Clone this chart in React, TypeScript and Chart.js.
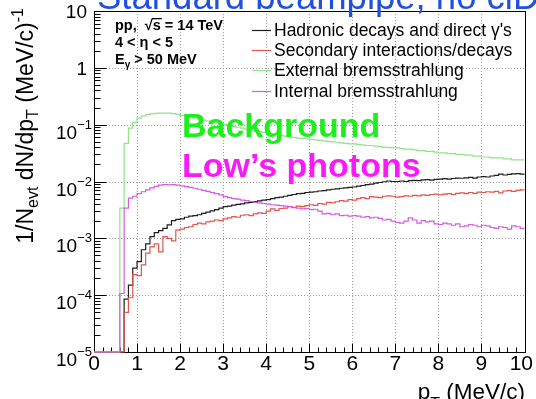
import { useEffect, useRef } from "react";
import { Chart, registerables } from "chart.js";

Chart.register(...registerables);

// p_T binning: 100 bins of 0.1 MeV/c from 0 to 10
const P_MIN = 0;
const P_MAX = 10;
const Y_MIN = 1e-5;
const Y_MAX = 10;
const binLowEdges: number[] = Array.from({ length: 100 }, (_, i) => i / 10);

// 1/N_evt dN/dp_T per bin, (MeV/c)^-1
const hadronic: number[] = [
  0, 0, 0, 0, 0, 0, 0, 8.5e-5, 1.5e-4, 3.0e-4,
  3.9e-4, 6.3e-4, 8.0e-4, 1.07e-3, 1.26e-3, 1.37e-3, 1.5e-3, 1.73e-3, 2.05e-3, 2.15e-3,
  2.2e-3, 2.35e-3, 2.45e-3, 2.5e-3, 2.6e-3, 2.75e-3, 2.9e-3, 3.05e-3, 3.2e-3, 3.4e-3,
  3.6e-3, 3.7e-3, 3.85e-3, 3.95e-3, 4.05e-3, 4.2e-3, 4.3e-3, 4.45e-3, 4.55e-3, 4.7e-3,
  4.8e-3, 5.0e-3, 5.2e-3, 5.3e-3, 5.5e-3, 5.7e-3, 5.9e-3, 6.1e-3, 6.2e-3, 6.4e-3,
  6.5e-3, 6.6e-3, 6.8e-3, 6.9e-3, 7.1e-3, 7.3e-3, 7.4e-3, 7.6e-3, 7.7e-3, 7.9e-3,
  8.0e-3, 8.3e-3, 8.5e-3, 8.8e-3, 9.0e-3, 9.4e-3, 9.6e-3, 9.9e-3, 1.02e-2, 1.0e-2,
  1.0e-2, 1.02e-2, 1.0e-2, 1.04e-2, 1.05e-2, 1.04e-2, 1.07e-2, 1.08e-2, 1.06e-2, 1.09e-2,
  1.1e-2, 1.12e-2, 1.1e-2, 1.13e-2, 1.15e-2, 1.14e-2, 1.16e-2, 1.18e-2, 1.15e-2, 1.2e-2,
  1.22e-2, 1.2e-2, 1.25e-2, 1.28e-2, 1.35e-2, 1.3e-2, 1.33e-2, 1.36e-2, 1.38e-2, 1.35e-2,
];

const secondary: number[] = [
  0, 0, 0, 0, 0, 0, 0, 5e-5, 9e-5, 2.3e-4,
  2.2e-4, 3.4e-4, 5.5e-4, 7.1e-4, 8.0e-4, 5.8e-4, 1.07e-3, 1.0e-3, 9.0e-4, 1.4e-3,
  1.45e-3, 1.55e-3, 1.6e-3, 1.75e-3, 1.85e-3, 1.8e-3, 1.95e-3, 2.0e-3, 2.1e-3, 2.05e-3,
  2.2e-3, 2.3e-3, 2.4e-3, 2.35e-3, 2.55e-3, 2.6e-3, 2.5e-3, 2.7e-3, 2.8e-3, 2.75e-3,
  3.0e-3, 3.3e-3, 3.1e-3, 3.35e-3, 3.4e-3, 3.6e-3, 3.5e-3, 3.7e-3, 3.6e-3, 3.75e-3,
  3.9e-3, 3.8e-3, 4.1e-3, 4.0e-3, 4.3e-3, 4.2e-3, 4.4e-3, 4.6e-3, 4.5e-3, 4.8e-3,
  4.7e-3, 5.0e-3, 5.2e-3, 5.0e-3, 5.4e-3, 5.3e-3, 5.2e-3, 5.5e-3, 5.6e-3, 5.5e-3,
  5.3e-3, 5.4e-3, 5.6e-3, 5.5e-3, 5.7e-3, 5.6e-3, 5.8e-3, 5.7e-3, 5.9e-3, 6.0e-3,
  5.8e-3, 6.0e-3, 6.1e-3, 5.9e-3, 6.2e-3, 6.3e-3, 6.1e-3, 6.4e-3, 6.2e-3, 6.5e-3,
  6.4e-3, 6.6e-3, 6.5e-3, 6.7e-3, 6.3e-3, 6.8e-3, 6.9e-3, 6.7e-3, 7.0e-3, 7.1e-3,
];

const externalBrems: number[] = [
  0, 0, 0, 0, 0, 0, 3.4e-3, 0.047, 0.087, 0.11,
  0.13, 0.143, 0.15, 0.155, 0.158, 0.16, 0.16, 0.159, 0.156, 0.152,
  0.146, 0.141, 0.136, 0.13, 0.125, 0.12, 0.116, 0.111, 0.107, 0.103,
  0.1, 0.096, 0.093, 0.09, 0.087, 0.083, 0.081, 0.078, 0.076, 0.073,
  0.071, 0.069, 0.067, 0.065, 0.063, 0.061, 0.06, 0.058, 0.057, 0.056,
  0.055, 0.054, 0.053, 0.052, 0.051, 0.05, 0.049, 0.048, 0.047, 0.046,
  0.046, 0.045, 0.044, 0.043, 0.043, 0.042, 0.041, 0.04, 0.04, 0.039,
  0.039, 0.038, 0.037, 0.037, 0.036, 0.035, 0.035, 0.034, 0.034, 0.033,
  0.032, 0.032, 0.031, 0.031, 0.03, 0.03, 0.029, 0.029, 0.028, 0.028,
  0.027, 0.027, 0.026, 0.026, 0.026, 0.025, 0.025, 0.024, 0.024, 0.024,
];

const internalBrems: number[] = [
  0, 0, 0, 0, 0, 0, 1.07e-4, 3.4e-3, 5.1e-3, 5.5e-3,
  6.1e-3, 6.6e-3, 7.1e-3, 7.7e-3, 8.2e-3, 8.6e-3, 8.8e-3, 8.7e-3, 8.8e-3, 8.6e-3,
  8.4e-3, 8.1e-3, 7.9e-3, 7.6e-3, 7.3e-3, 7.0e-3, 6.7e-3, 6.4e-3, 6.1e-3, 5.8e-3,
  5.4e-3, 5.2e-3, 5.0e-3, 4.9e-3, 4.7e-3, 4.6e-3, 4.45e-3, 4.3e-3, 4.2e-3, 4.1e-3,
  4.0e-3, 3.9e-3, 3.85e-3, 3.75e-3, 3.7e-3, 3.6e-3, 3.45e-3, 3.4e-3, 3.3e-3, 3.35e-3,
  3.2e-3, 3.25e-3, 3.0e-3, 2.7e-3, 2.75e-3, 2.6e-3, 2.7e-3, 2.5e-3, 2.55e-3, 2.45e-3,
  2.5e-3, 2.45e-3, 2.35e-3, 2.4e-3, 2.3e-3, 2.35e-3, 2.25e-3, 2.1e-3, 2.15e-3, 2.0e-3,
  1.9e-3, 1.85e-3, 2.0e-3, 2.3e-3, 2.1e-3, 1.85e-3, 2.05e-3, 1.95e-3, 2.0e-3, 1.8e-3,
  1.75e-3, 1.85e-3, 1.8e-3, 1.7e-3, 1.8e-3, 1.6e-3, 1.65e-3, 1.75e-3, 1.7e-3, 1.6e-3,
  1.7e-3, 1.65e-3, 1.55e-3, 1.5e-3, 1.6e-3, 1.55e-3, 1.45e-3, 1.65e-3, 1.6e-3, 1.5e-3,
];

const seriesLabels: string[] = [
  "Hadronic decays and direct \u03b3's",
  "Secondary interactions/decays",
  "External bremsstrahlung",
  "Internal bremsstrahlung",
];
const seriesColors: string[] = ["#1e1e1e", "#e2554b", "#92e38c", "#d65ae2"];
const xTickLabels: string[] = ["0", "1", "2", "3", "4", "5", "6", "7", "8", "9", "10"];
const yDecades: number[] = [-5, -4, -3, -2, -1, 0, 1];

const FONT = '"Liberation Sans", Arial, Helvetica, sans-serif';

// Empty bins sit on the frame floor, as in a ROOT histogram
function histPoints(values: number[]) {
  const pts = values.map((v, i) => ({ x: binLowEdges[i], y: v > 0 ? v : Y_MIN }));
  const last = values[values.length - 1];
  pts.push({ x: P_MAX, y: last > 0 ? last : Y_MIN });
  return pts;
}

type Seg = { t: string; size: number; dy?: number; bold?: boolean };

function segWidth(ctx: CanvasRenderingContext2D, segs: Seg[]) {
  let w = 0;
  for (const s of segs) {
    ctx.font = `${s.bold ? "bold " : ""}${s.size}px ${FONT}`;
    w += ctx.measureText(s.t).width;
  }
  return w;
}

function drawRich(ctx: CanvasRenderingContext2D, segs: Seg[], x: number, y: number, align: "left" | "right") {
  const total = segWidth(ctx, segs);
  let cx = align === "right" ? x - total : x;
  ctx.textAlign = "left";
  ctx.textBaseline = "alphabetic";
  for (const s of segs) {
    ctx.font = `${s.bold ? "bold " : ""}${s.size}px ${FONT}`;
    ctx.fillText(s.t, cx, y + (s.dy || 0));
    cx += ctx.measureText(s.t).width;
  }
  return total;
}

const rootFrame = {
  id: "rootFrame",
  beforeDraw(chart: any) {
    const { ctx, width, height } = chart;
    ctx.save();
    ctx.fillStyle = "#ffffff";
    ctx.fillRect(0, 0, width, height);
    ctx.restore();
  },
  // grid, frame and ticks go under the histograms
  beforeDatasetsDraw(chart: any) {
    const { ctx, chartArea: a, scales } = chart;
    const xs = scales.x;
    const ys = scales.y;
    ctx.save();
    ctx.strokeStyle = "#9a9a9a";
    ctx.lineWidth = 1;
    ctx.setLineDash([1, 2]);
    for (let v = P_MIN + 1; v < P_MAX; v++) {
      const px = Math.round(xs.getPixelForValue(v)) + 0.5;
      ctx.beginPath();
      ctx.moveTo(px, a.top);
      ctx.lineTo(px, a.bottom);
      ctx.stroke();
    }
    for (const d of yDecades) {
      const v = Math.pow(10, d);
      if (v <= Y_MIN || v >= Y_MAX) continue;
      const py = Math.round(ys.getPixelForValue(v)) + 0.5;
      ctx.beginPath();
      ctx.moveTo(a.left, py);
      ctx.lineTo(a.right, py);
      ctx.stroke();
    }

    ctx.setLineDash([]);
    ctx.strokeStyle = "#000";
    const L = Math.round(a.left) + 0.5;
    const R = Math.round(a.right) + 0.5;
    const T = Math.round(a.top) + 0.5;
    const B = Math.round(a.bottom) + 0.5;
    ctx.strokeRect(L, T, R - L, B - T);

    ctx.beginPath();
    for (let k = 0; k <= 50; k++) {
      const px = Math.round(xs.getPixelForValue(k * 0.2)) + 0.5;
      const len = k % 5 === 0 ? 9 : 5;
      ctx.moveTo(px, B);
      ctx.lineTo(px, B - len);
    }
    for (const d of yDecades) {
      for (let m = 1; m <= 9; m++) {
        const v = m * Math.pow(10, d);
        if (v < Y_MIN || v > Y_MAX) continue;
        const py = Math.round(ys.getPixelForValue(v)) + 0.5;
        const len = m === 1 ? 12 : 6;
        ctx.moveTo(L, py);
        ctx.lineTo(L + len, py);
      }
    }
    ctx.stroke();
    ctx.restore();
  },
  afterDatasetsDraw(chart: any) {
    const { ctx, scales } = chart;
    const xs = scales.x;
    const ys = scales.y;
    ctx.save();
    ctx.fillStyle = "#000";

    // x tick labels
    ctx.font = `21px ${FONT}`;
    ctx.textBaseline = "alphabetic";
    ctx.textAlign = "left";
    xTickLabels.forEach((lab, i) => {
      const px = xs.getPixelForValue(P_MIN + i);
      const w = ctx.measureText(lab).width;
      let x0 = px - w / 2;
      if (x0 + w > chart.width - 3) x0 = chart.width - 3 - w;
      ctx.fillText(lab, x0, 370);
    });

    // y tick labels
    for (const d of yDecades) {
      const py = ys.getPixelForValue(Math.pow(10, d));
      if (d === 0 || d === 1) {
        ctx.font = `19px ${FONT}`;
        ctx.textAlign = "right";
        ctx.fillText(d === 0 ? "1" : "10", 87, py + 7);
      } else {
        drawRich(ctx, [
          { t: "10", size: 19, dy: 14 },
          { t: "\u2212" + String(-d), size: 13, dy: 4 },
        ], 92, py, "right");
      }
    }

    // axis titles
    drawRich(ctx, [
      { t: "p", size: 22.5 },
      { t: "T", size: 16, dy: 10 },
      { t: " (MeV/c)", size: 22.5 },
    ], 525, 399, "right");

    ctx.save();
    ctx.translate(33, 8);
    ctx.rotate(-Math.PI / 2);
    drawRich(ctx, [
      { t: "1/N", size: 23 },
      { t: "evt", size: 16, dy: 5 },
      { t: " dN/dp", size: 23 },
      { t: "T", size: 16, dy: 5 },
      { t: " (MeV/c)", size: 23 },
      { t: "-1", size: 16, dy: -10 },
    ], 0, 0, "right");
    ctx.restore();

    // selection text
    ctx.fillStyle = "#000";
    const x0 = 115;
    const w = drawRich(ctx, [{ t: "pp,  ", size: 14.5, bold: true }], x0, 29.5, "left");
    ctx.font = `bold 14.5px ${FONT}`;
    const rootW = ctx.measureText("\u221a").width;
    ctx.fillText("\u221a", x0 + w, 29.5);
    const sW = ctx.measureText("s").width;
    ctx.fillText("s", x0 + w + rootW, 29.5);
    ctx.fillRect(x0 + w + rootW - 1, 18, sW + 2, 1.3);
    drawRich(ctx, [{ t: " = 14 TeV", size: 14.5, bold: true }], x0 + w + rootW + sW, 29.5, "left");
    drawRich(ctx, [{ t: "4 < \u03b7 < 5", size: 14.5, bold: true }], x0, 47, "left");
    drawRich(ctx, [
      { t: "E", size: 14.5, bold: true },
      { t: "\u03b3", size: 10, bold: true, dy: 4 },
      { t: " > 50 MeV", size: 14.5, bold: true },
    ], x0, 64, "left");

    // legend
    seriesLabels.forEach((lab, i) => {
      const yy = 29.5 + i * 20.4;
      ctx.strokeStyle = seriesColors[i];
      ctx.lineWidth = 1.2;
      ctx.beginPath();
      ctx.moveTo(252, Math.round(yy) + 0.5);
      ctx.lineTo(271, Math.round(yy) + 0.5);
      ctx.stroke();
      ctx.fillStyle = "#000";
      drawRich(ctx, [{ t: lab, size: 17.5 }], 274, yy + 6, "left");
    });

    // overlay annotations
    ctx.fillStyle = "#1eee1e";
    drawRich(ctx, [{ t: "Background", size: 34, bold: true }], 182, 137, "left");
    ctx.fillStyle = "#f81af8";
    drawRich(ctx, [{ t: "Low\u2019s photons", size: 34, bold: true }], 182, 177, "left");

    // page title
    ctx.fillStyle = "#2150dc";
    drawRich(ctx, [{ t: "Standard beampipe, no ciD", size: 36.5 }], 97, 9, "left");
    ctx.restore();
  },
};

export default function App() {
  const canvasRef = useRef<HTMLCanvasElement | null>(null);

  useEffect(() => {
    const canvas = canvasRef.current;
    if (!canvas) return;
    const series = [hadronic, secondary, externalBrems, internalBrems];
    const drawOrder = [4, 3, 2, 1];
    const chart = new Chart(canvas, {
      type: "line",
      data: {
        datasets: series.map((vals, i) => ({
          label: seriesLabels[i],
          data: histPoints(vals),
          borderColor: seriesColors[i],
          borderWidth: 1.2,
          pointRadius: 0,
          stepped: true,
          fill: false,
          clip: 2,
          order: drawOrder[i],
        })),
      },
      options: {
        responsive: false,
        animation: false,
        events: [],
        layout: { padding: { left: 94, top: 11, right: 11.5, bottom: 47 } },
        plugins: { legend: { display: false }, tooltip: { enabled: false } },
        scales: {
          x: { type: "linear", min: P_MIN, max: P_MAX, display: false },
          y: { type: "logarithmic", min: Y_MIN, max: Y_MAX, display: false },
        },
      },
      plugins: [rootFrame],
    });
    return () => chart.destroy();
  }, []);

  return (
    <div style={{ position: "fixed", left: 0, top: 0, width: 536, height: 399, background: "#fff" }}>
      <canvas ref={canvasRef} width={536} height={399} style={{ display: "block" }} />
    </div>
  );
}
